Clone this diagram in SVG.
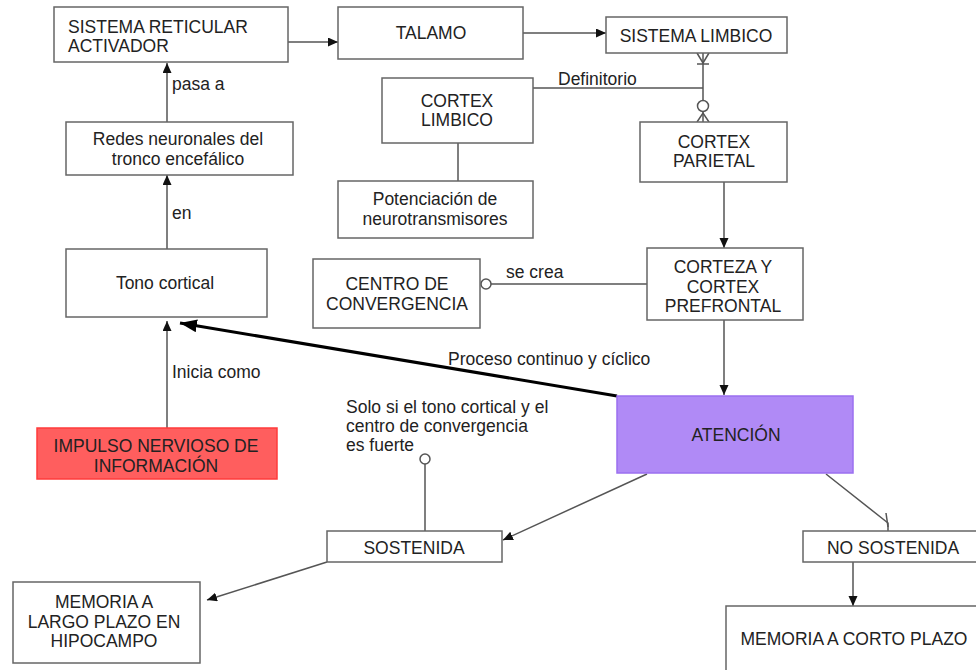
<svg xmlns="http://www.w3.org/2000/svg" width="976" height="670" viewBox="0 0 976 670">
<defs>
<style>
.box{fill:#fff;stroke:#666;stroke-width:1.5}
.t{font-family:"Liberation Sans",Arial,sans-serif;font-size:17.5px;fill:#222}
.c{text-anchor:middle}
.ln{fill:none;stroke:#555;stroke-width:1.5}
.thick{fill:none;stroke:#000;stroke-width:3}
</style>
<marker id="arr" markerUnits="userSpaceOnUse" markerWidth="11" markerHeight="10" refX="10" refY="4.5" orient="auto">
<path d="M0,0 L10,4.5 L0,9 z" fill="#111"/>
</marker>
<marker id="arrBig" markerUnits="userSpaceOnUse" markerWidth="18" markerHeight="14" refX="17" refY="6.5" orient="auto">
<path d="M0,0 L17,6.5 L0,13 z" fill="#000"/>
</marker>
</defs>
<rect width="976" height="670" fill="#fff"/>

<g id="connectors">
<line class="ln" x1="288" y1="42" x2="338" y2="42" marker-end="url(#arr)"/>
<line class="ln" x1="523" y1="33" x2="606" y2="33" marker-end="url(#arr)"/>
<line class="ln" x1="703" y1="53" x2="703" y2="100"/>
<line class="ln" x1="703" y1="112" x2="703" y2="122"/>
<path class="ln" d="M697,53 L703,63 L709,53"/>
<line class="ln" x1="697" y1="64" x2="709" y2="64"/>
<circle cx="703" cy="106" r="5.5" fill="#fff" stroke="#555" stroke-width="1.5"/>
<path class="ln" d="M697,122 L703,113 L709,122"/>
<line class="ln" x1="533" y1="88" x2="703" y2="88"/>
<text class="t" x="558" y="85">Definitorio</text>
<line class="ln" x1="458" y1="143" x2="458" y2="181"/>
<line class="ln" x1="724" y1="182" x2="724" y2="248" marker-end="url(#arr)"/>
<line class="ln" x1="647" y1="284" x2="491" y2="284"/>
<circle cx="486" cy="284" r="5" fill="#fff" stroke="#555" stroke-width="1.5"/>
<text class="t" x="506" y="278">se crea</text>
<line class="ln" x1="724" y1="320" x2="724" y2="395" marker-end="url(#arr)"/>
<line class="thick" x1="617" y1="396" x2="180" y2="323" marker-end="url(#arrBig)"/>
<text class="t" x="448" y="365">Proceso continuo y cíclico</text>
<line class="ln" x1="167" y1="428" x2="167" y2="321" marker-end="url(#arr)"/>
<text class="t" x="172" y="378">Inicia como</text>
<line class="ln" x1="167" y1="249" x2="167" y2="175" marker-end="url(#arr)"/>
<text class="t" x="172" y="219">en</text>
<line class="ln" x1="167" y1="122" x2="167" y2="63" marker-end="url(#arr)"/>
<text class="t" x="172" y="90">pasa a</text>
<line class="ln" x1="647" y1="474" x2="503" y2="540" marker-end="url(#arr)"/>
<path class="ln" d="M826,474 L888,523 L888,531"/>
<line class="ln" x1="886" y1="513" x2="888" y2="527"/>
<line class="ln" x1="853" y1="562" x2="853" y2="606" marker-end="url(#arr)"/>
<line class="ln" x1="327" y1="562" x2="207" y2="600" marker-end="url(#arr)"/>
<line class="ln" x1="425" y1="531" x2="425" y2="464"/>
<circle cx="425" cy="459" r="5" fill="#fff" stroke="#555" stroke-width="1.5"/>
<text class="t" x="346" y="413">Solo si el tono cortical y el</text>
<text class="t" x="346" y="432">centro de convergencia</text>
<text class="t" x="346" y="451">es fuerte</text>
</g>

<g id="sra">
<rect class="box" x="54" y="7" width="234" height="55"/>
<text class="t" x="68" y="33">SISTEMA RETICULAR</text>
<text class="t" x="68" y="52">ACTIVADOR</text>
</g>
<g id="talamo">
<rect class="box" x="338" y="7" width="185" height="52"/>
<text class="t c" x="431" y="39">TALAMO</text>
</g>
<g id="sistema-limbico">
<rect class="box" x="606" y="17" width="181" height="36"/>
<text class="t c" x="696" y="42">SISTEMA LIMBICO</text>
</g>
<g id="cortex-limbico">
<rect class="box" x="382" y="78" width="151" height="65"/>
<text class="t c" x="457" y="107">CORTEX</text>
<text class="t c" x="457" y="126">LIMBICO</text>
</g>
<g id="potenciacion">
<rect class="box" x="338" y="181" width="195" height="57"/>
<text class="t c" x="435" y="205">Potenciación de</text>
<text class="t c" x="435" y="225">neurotransmisores</text>
</g>
<g id="cortex-parietal">
<rect class="box" x="640" y="122" width="147" height="60"/>
<text class="t c" x="714" y="148">CORTEX</text>
<text class="t c" x="714" y="167">PARIETAL</text>
</g>
<g id="corteza-prefrontal">
<rect class="box" x="647" y="248" width="156" height="72"/>
<text class="t c" x="723" y="273">CORTEZA Y</text>
<text class="t c" x="723" y="293">CORTEX</text>
<text class="t c" x="723" y="312">PREFRONTAL</text>
</g>
<g id="centro-convergencia">
<rect class="box" x="313" y="259" width="167" height="69"/>
<text class="t c" x="397" y="290">CENTRO DE</text>
<text class="t c" x="397" y="310">CONVERGENCIA</text>
</g>
<g id="redes">
<rect class="box" x="66" y="122" width="227" height="53"/>
<text class="t c" x="178" y="145">Redes neuronales del</text>
<text class="t c" x="178" y="165">tronco encefálico</text>
</g>
<g id="tono">
<rect class="box" x="66" y="249" width="201" height="68"/>
<text class="t c" x="165" y="289">Tono cortical</text>
</g>
<g id="impulso">
<rect x="37" y="428" width="240" height="51" fill="#FF5E5E" stroke="#FF3B3B" stroke-width="1.5"/>
<text class="t c" x="156" y="452">IMPULSO NERVIOSO DE</text>
<text class="t c" x="156" y="472">INFORMACIÓN</text>
</g>
<g id="atencion">
<rect x="617" y="396" width="236" height="77" fill="#B08AF6" stroke="#9B6FF0" stroke-width="1.5"/>
<text class="t c" x="736" y="441">ATENCIÓN</text>
</g>
<g id="sostenida">
<rect class="box" x="327" y="531" width="175" height="31"/>
<text class="t c" x="414" y="554">SOSTENIDA</text>
</g>
<g id="no-sostenida">
<rect class="box" x="803" y="531" width="180" height="31"/>
<text class="t c" x="893" y="554">NO SOSTENIDA</text>
</g>
<g id="memoria-largo">
<rect class="box" x="13" y="582" width="187" height="81"/>
<text class="t c" x="104" y="608">MEMORIA A</text>
<text class="t c" x="104" y="628">LARGO PLAZO EN</text>
<text class="t c" x="104" y="647">HIPOCAMPO</text>
</g>
<g id="memoria-corto">
<rect class="box" x="726" y="606" width="260" height="80"/>
<text class="t c" x="854" y="645">MEMORIA A CORTO PLAZO</text>
</g>
</svg>
